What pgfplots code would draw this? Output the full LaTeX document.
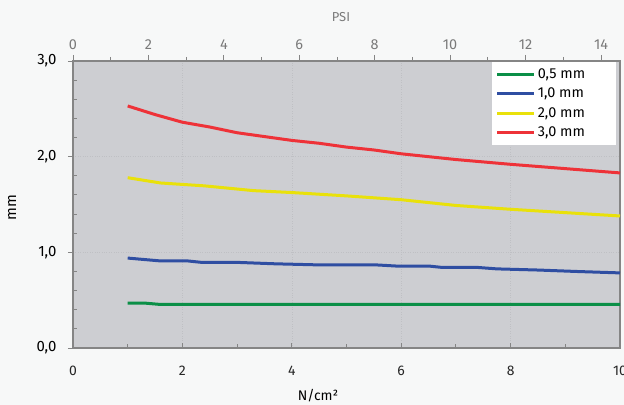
\documentclass[border=0pt]{standalone}
\usepackage{fontspec}
\setmainfont{Fira Sans}
\usepackage{pgfplots}
\pgfplotsset{compat=1.18}
\definecolor{bgpage}{HTML}{F7F8F8}
\definecolor{plotbg}{HTML}{CDCED2}
\definecolor{gridc}{HTML}{BFC0C4}
\definecolor{axisc}{HTML}{858585}
\definecolor{cgreen}{HTML}{0B8F47}
\definecolor{cblue}{HTML}{2F4EA2}
\definecolor{cyellow}{HTML}{E9E10A}
\definecolor{cred}{HTML}{EE3238}
\definecolor{toplab}{HTML}{7A7A7A}
\begin{document}
\begin{tikzpicture}
\fill[bgpage] (-73bp,-57bp) rectangle (551bp,348bp);
\useasboundingbox (-73bp,-57bp) rectangle (551bp,348bp);
% secondary (top) axis: PSI
\begin{axis}[
  at={(0,0)}, anchor=south west,
  scale only axis, width=547bp, height=287bp,
  xmin=0, xmax=14.50377, ymin=0, ymax=1,
  axis x line*=top, axis y line=none,
  axis line style={axisc, line width=1.1bp},
  xtick={0,2,...,14}, minor xtick={1,3,...,13},
  tick align=outside,
  major tick length=6bp, minor tick length=4bp,
  every tick/.style={axisc, line width=0.9bp},
  xticklabel style={text=toplab, font=\fontsize{14.5}{14.5}\selectfont, yshift=1.5bp},
  /pgf/number format/assume math mode=true,
  xlabel={PSI},
  xlabel style={at={(axis description cs:0.49,1)}, anchor=center, yshift=44bp, text=toplab, font=\fontsize{13}{13}\selectfont},
]
\end{axis}
% main axis
\begin{axis}[
  at={(0,0)}, anchor=south west,
  scale only axis, width=547bp, height=287bp,
  xmin=0, xmax=10, ymin=0, ymax=3,
  axis background/.style={fill=plotbg},
  axis line style={axisc, line width=1.1bp},
  xtick={0,2,...,10}, minor xtick={1,3,...,9},
  ytick={0,1,2,3}, minor ytick={0.2,0.4,0.6,0.8,1.2,1.4,1.6,1.8,2.2,2.4,2.6,2.8},
  xtick pos=left, ytick pos=left,
  tick align=inside,
  major tick length=5bp, minor tick length=4bp,
  every tick/.style={axisc, line width=0.9bp},
  every major y tick/.append style={xshift=-5bp},
  grid=major,
  major grid style={gridc, dotted, line width=0.5bp},
  /pgf/number format/assume math mode=true,
  yticklabel style={/pgf/number format/.cd, use comma, fixed, fixed zerofill, precision=1, /tikz/.cd,
     text=black, font=\fontsize{15}{15}\selectfont, xshift=-13bp},
  xticklabel style={text=black!85, font=\fontsize{14}{14}\selectfont, yshift=-15bp},
  xlabel={N/cm²},
  xlabel style={at={(axis description cs:0.448,0)}, anchor=center, yshift=-48bp, text=black, font=\fontsize{14}{14}\selectfont},
  ylabel={mm},
  ylabel style={at={(axis description cs:-0.1115,0.49)}, anchor=center, text=black, font=\fontsize{15}{15}\selectfont},
  legend style={at={(rel axis cs:0.9927,0.9965)}, anchor=north east, fill=white, draw=none,
     font=\fontsize{14.5}{14.5}\selectfont, row sep=4.2bp, inner xsep=4bp, inner ysep=4.5bp,
     /tikz/every even column/.append style={column sep=5bp}},
  legend image code/.code={\draw[#1] (0bp,0bp) -- (37bp,0bp);},
  legend cell align=left,
  every axis plot/.append style={line width=3bp},
]
\addplot[cgreen] coordinates {(1,0.47) (1.3,0.47) (1.6,0.455) (3,0.455) (5,0.455) (7,0.455) (10,0.455)};
\addlegendentry{\makebox[72bp][l]{0,5 mm}}
\addplot[cblue] coordinates {(1,0.94) (1.6,0.91) (2.1,0.91) (2.35,0.895) (3,0.895) (3.7,0.88) (4.4,0.87) (5.5,0.87) (5.9,0.857) (6.5,0.857) (6.75,0.842) (7.4,0.842) (7.75,0.827) (8.5,0.815) (9.2,0.80) (10,0.785)};
\addlegendentry{\makebox[72bp][l]{1,0 mm}}
\addplot[cyellow] coordinates {(1,1.78) (1.6,1.725) (2.4,1.695) (3.3,1.645) (4,1.625) (5,1.59) (6,1.55) (7,1.49) (8,1.45) (9,1.415) (10,1.38)};
\addlegendentry{\makebox[72bp][l]{2,0 mm}}
\addplot[cred] coordinates {(1,2.53) (1.5,2.44) (2,2.36) (2.5,2.31) (3,2.25) (3.5,2.21) (4,2.17) (4.5,2.14) (5,2.10) (5.5,2.07) (6,2.03) (7,1.97) (8,1.92) (9,1.875) (10,1.83)};
\addlegendentry{\makebox[72bp][l]{3,0 mm}}
\end{axis}
\end{tikzpicture}
\end{document}
